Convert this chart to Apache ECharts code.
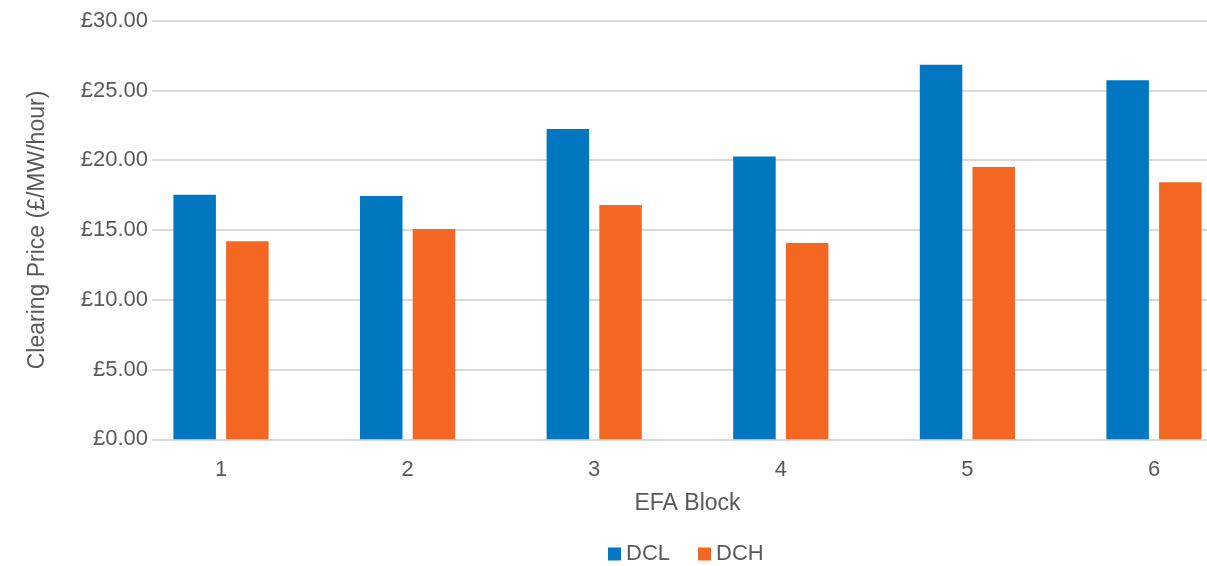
<!DOCTYPE html>
<html><head><meta charset="utf-8">
<script src="https://cdn.jsdelivr.net/npm/echarts@6/dist/echarts.min.js"></script>
<style>html,body{margin:0;padding:0;background:#fff}#c{width:1207px;height:566px}</style>
</head><body><div id="c"></div>
<script>
const categories = ['1','2','3','4','5','6'];
const dclValues = [17.53, 17.44, 22.24, 20.26, 26.85, 25.73];
const dchValues = [14.19, 15.07, 16.80, 14.07, 19.52, 18.42];
const yTicks = [0, 5, 10, 15, 20, 25, 30];
const FONT = '"Liberation Sans", Arial, sans-serif';
const TXT = '#595959';
const chart = echarts.init(document.getElementById('c'), null, {renderer:'canvas'});
chart.setOption({
  animation:false,
  textStyle:{fontFamily:FONT},
  legend:{
    top: 538, left: 603, itemWidth:13, itemHeight:13, itemGap:28,
    icon:'rect',
    textStyle:{fontSize:22, color:TXT, fontFamily:FONT},
    data:['DCL','DCH']
  },
  grid:[
    {left:157, width:1050, top:20.7, bottom:126.7, containLabel:false},
    {left:221, width:933, top:20.7, bottom:126.7, containLabel:false}
  ],
  xAxis:[
    {gridIndex:0, type:'category', data:categories, show:false},
    {gridIndex:1, type:'category', data:categories, boundaryGap:false,
     axisLine:{show:false}, axisTick:{show:false},
     axisLabel:{fontSize:22, color:TXT, margin:20, fontFamily:FONT},
     name:'EFA Block', nameLocation:'middle', nameGap:53,
     nameTextStyle:{fontSize:23, color:TXT, fontFamily:FONT}}
  ],
  yAxis:[
    {gridIndex:0, type:'value', min:yTicks[0], max:yTicks[yTicks.length-1], interval:5,
     axisLine:{show:false},
     axisTick:{show:true, length:5, lineStyle:{color:'#d9d9d9', width:2}},
     splitLine:{show:true, lineStyle:{color:'#d9d9d9', width:2}},
     axisLabel:{fontSize:22, color:TXT, margin:9, fontFamily:FONT,
       formatter:v=>'£'+v.toFixed(2)},
     name:'Clearing Price (£/MW/hour)', nameLocation:'middle', nameGap:108,
     nameTextStyle:{fontSize:23, color:TXT, fontFamily:FONT}},
    {gridIndex:1, type:'value', min:yTicks[0], max:yTicks[yTicks.length-1], show:false}
  ],
  series:[
    {name:'DCL', type:'bar', xAxisIndex:1, yAxisIndex:1, data:dclValues,
     barWidth:42.5, barGap:'24%', itemStyle:{color:'#0077C0'}},
    {name:'DCH', type:'bar', xAxisIndex:1, yAxisIndex:1, data:dchValues,
     barWidth:42.5, barGap:'24%', itemStyle:{color:'#F36723'}}
  ]
});
</script></body></html>
